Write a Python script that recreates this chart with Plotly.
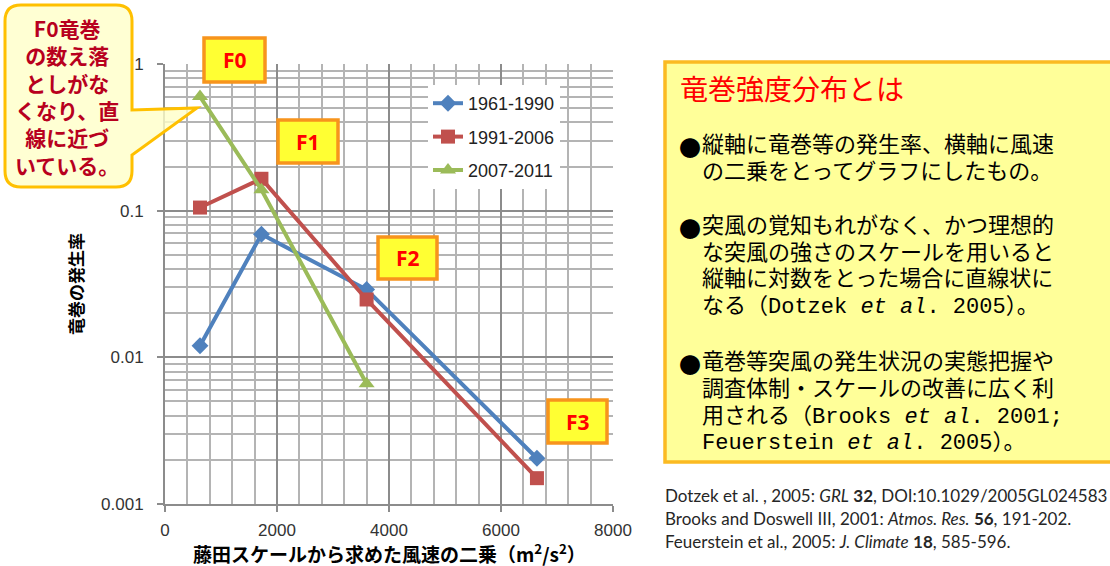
import plotly.graph_objects as go

# ---------------- data ----------------
speed_sq = [625, 1722, 3600, 6642]          # F0..F3 wind speed squared (m2/s2)
rate_1961_1990 = [0.012, 0.069, 0.029, 0.00205]
rate_1991_2006 = [0.105, 0.165, 0.0248, 0.0015]
rate_2007_2011 = [0.6, 0.139, 0.0066]
series_names = ["1961-1990", "1991-2006", "2007-2011"]
f_labels = ["F0", "F1", "F2", "F3"]
y_tickvals = [0.001, 0.01, 0.1, 1]
y_ticktext = ["0.001", "0.01", "0.1", "1"]
x_tickvals = [0, 2000, 4000, 6000, 8000]

W, H = 1110, 566
L, R, T, B = 165, 613, 64, 504  # plot area in pixels


def px(x):
    return (x - L) / (R - L)


def py(y):
    return (B - y) / (B - T)


fig = go.Figure()
fig.add_trace(go.Scatter(x=speed_sq, y=rate_1961_1990, name=series_names[0],
                         mode="lines+markers", legendgroup="a",
                         line=dict(color="#4F81BD", width=4),
                         marker=dict(symbol="diamond", size=13, color="#4F81BD")))
fig.add_trace(go.Scatter(x=speed_sq, y=rate_1991_2006, name=series_names[1],
                         mode="lines+markers", legendgroup="b",
                         line=dict(color="#C0504D", width=4),
                         marker=dict(symbol="square", size=14, color="#C0504D")))
fig.add_trace(go.Scatter(x=speed_sq[:3], y=rate_2007_2011, name=series_names[2],
                         mode="lines+markers", legendgroup="c",
                         line=dict(color="#9BBB59", width=4),
                         marker=dict(symbol="triangle-up", size=14, color="#9BBB59")))

minor_y = [m * 10 ** e for e in (-3, -2, -1) for m in range(2, 10)]

axis_font = dict(family="Liberation Sans, Arial", size=17, color="#333333")
fig.update_xaxes(range=[0, 8000], tickvals=x_tickvals, showgrid=True,
                 gridcolor="#8c8c8c", gridwidth=2,
                 minor=dict(dtick=400, showgrid=True, gridcolor="#b4b4b4", gridwidth=2, ticks=""),
                 showline=True, linecolor="#8c8c8c", linewidth=2,
                 ticks="outside", ticklen=6, tickcolor="#8c8c8c", tickwidth=2,
                 tickfont=axis_font, zeroline=False, ticklabelstandoff=4)
fig.update_yaxes(type="log", range=[-3, 0], tickvals=y_tickvals, ticktext=y_ticktext,
                 showgrid=True, gridcolor="#8c8c8c", gridwidth=2,
                 minor=dict(tickvals=minor_y, showgrid=True, gridcolor="#b4b4b4", gridwidth=2, ticks=""),
                 showline=True, linecolor="#8c8c8c", linewidth=2,
                 ticks="outside", ticklen=6, tickcolor="#8c8c8c", tickwidth=2,
                 tickfont=axis_font, zeroline=False, ticklabelstandoff=10)

shapes = []
annotations = []

# F-scale label boxes
f_boxes = [(204, 38, 265, 82), (278, 120, 338, 163), (378, 237, 437, 279), (548, 400, 607, 443)]
for lab, (x0, y0, x1, y1) in zip(f_labels, f_boxes):
    shapes.append(dict(type="rect", xref="paper", yref="paper",
                       x0=px(x0), x1=px(x1), y0=py(y1), y1=py(y0),
                       fillcolor="#FFFF33", line=dict(color="#F7941D", width=3.5), layer="above"))
    annotations.append(dict(xref="paper", yref="paper", x=px((x0 + x1) / 2), y=py((y0 + y1) / 2),
                            text="<b>%s</b>" % lab, showarrow=False, xanchor="center", yanchor="middle",
                            font=dict(family="Noto Sans, Lato", size=21, color="#FF0000")))

# callout with pointer
cx0, cy0, cx1, cy1, r = 5, 5, 132, 187, 16
tipx, tipy = 197, 108
pts = [
    ("M", cx0 + r, cy0), ("L", cx1 - r, cy0), ("Q", cx1, cy0, cx1, cy0 + r),
    ("L", cx1, 110), ("L", tipx, tipy), ("L", cx1, 155),
    ("L", cx1, cy1 - r), ("Q", cx1, cy1, cx1 - r, cy1),
    ("L", cx0 + r, cy1), ("Q", cx0, cy1, cx0, cy1 - r),
    ("L", cx0, cy0 + r), ("Q", cx0, cy0, cx0 + r, cy0),
]
path = ""
for p in pts:
    if p[0] == "Q":
        path += "Q%.5f,%.5f %.5f,%.5f " % (px(p[1]), py(p[2]), px(p[3]), py(p[4]))
    else:
        path += "%s%.5f,%.5f " % (p[0], px(p[1]), py(p[2]))
path += "Z"
shapes.append(dict(type="path", xref="paper", yref="paper", path=path,
                   fillcolor="rgba(255,255,200,0.8)", line=dict(color="#FFC000", width=3), layer="above"))
callout_lines = ["F0竜巻", "の数え落", "としがな", "くなり、直", "線に近づ", "いている。"]
annotations.append(dict(xref="paper", yref="paper", x=px(67), y=py(97),
                        text="<b>" + "<br>".join(callout_lines) + "</b>",
                        showarrow=False, xanchor="center", yanchor="middle", align="center",
                        font=dict(family="Noto Sans CJK JP", size=21, color="#B8001E")))

# right explanation box
shapes.append(dict(type="rect", xref="paper", yref="paper",
                   x0=px(665), x1=px(1125), y0=py(462), y1=py(62),
                   fillcolor="#FFFF99", line=dict(color="#FBBA22", width=3.5), layer="below"))
annotations.append(dict(xref="paper", yref="paper", x=px(678), y=py(88), text="竜巻強度分布とは",
                        showarrow=False, xanchor="left", yanchor="middle",
                        font=dict(family="Noto Sans CJK JP", size=28, color="#FF0000")))
body_font = dict(family="Liberation Mono, Noto Sans CJK JP", size=22, color="#000000")
body_lines = [
    ("●", "縦軸に竜巻等の発生率、横軸に風速", 146),
    ("", "の二乗をとってグラフにしたもの。", 173),
    ("●", "突風の覚知もれがなく、かつ理想的", 227),
    ("", "な突風の強さのスケールを用いると", 254),
    ("", "縦軸に対数をとった場合に直線状に", 280),
    ("", "なる（Dotzek <i>et al</i>. 2005）。", 307),
    ("●", "竜巻等突風の発生状況の実態把握や", 363),
    ("", "調査体制・スケールの改善に広く利", 390),
    ("", "用される（Brooks <i>et al</i>. 2001;", 417),
    ("", "Feuerstein <i>et al</i>. 2005）。", 443),
]
for bullet, t, yy in body_lines:
    if bullet:
        annotations.append(dict(xref="paper", yref="paper", x=px(677), y=py(yy), text=bullet,
                                showarrow=False, xanchor="left", yanchor="middle",
                                font=dict(family="Noto Sans CJK JP", size=22, color="#000000")))
    annotations.append(dict(xref="paper", yref="paper", x=px(700), y=py(yy), text=t,
                            showarrow=False, xanchor="left", yanchor="middle", font=body_font))

# references
refs = [
    ("Dotzek et al. , 2005: <i>GRL</i> <b>32</b>, DOI:10.1029/2005GL024583", 495),
    ("Brooks and Doswell III, 2001: <i>Atmos. Res.</i> <b>56</b>, 191-202.", 518),
    ("Feuerstein et al., 2005: <i>J. Climate</i> <b>18</b>, 585-596.", 541),
]
for t, yy in refs:
    annotations.append(dict(xref="paper", yref="paper", x=px(663), y=py(yy), text=t,
                            showarrow=False, xanchor="left", yanchor="middle",
                            font=dict(family="Lato, Noto Sans", size=17, color="#262626")))

# axis titles
annotations.append(dict(xref="paper", yref="paper", x=px(75), y=py(284), text="<b>竜巻の発生率</b>",
                        showarrow=False, textangle=-90, xanchor="center", yanchor="middle",
                        font=dict(family="Noto Sans CJK JP", size=17, color="#000000")))
annotations.append(dict(xref="paper", yref="paper", x=px(389), y=py(553),
                        text="<b>藤田スケールから求めた風速の二乗（m<sup>2</sup>/s<sup>2</sup>）</b>",
                        showarrow=False, xanchor="center", yanchor="middle",
                        font=dict(family="Noto Sans CJK JP", size=19, color="#000000")))

fig.update_layout(
    width=W, height=H,
    margin=dict(l=L, r=W - R, t=T, b=H - B),
    plot_bgcolor="white", paper_bgcolor="white",
    shapes=shapes, annotations=annotations,
    legend=dict(x=px(428), y=py(85), xanchor="left", yanchor="top",
                bgcolor="white", borderwidth=0, traceorder="grouped", tracegroupgap=7,
                font=dict(family="Liberation Sans, Arial", size=18, color="#222222")),
    showlegend=True,
)

fig.write_html("out.html", config={"displayModeBar": False},
               post_script="document.body.style.margin='0';")
